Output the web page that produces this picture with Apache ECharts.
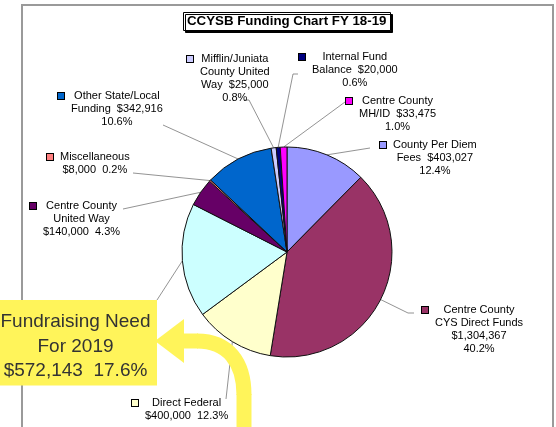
<!DOCTYPE html>
<html><head><meta charset="utf-8">
<script src="https://cdn.jsdelivr.net/npm/echarts@6/dist/echarts.min.js"></script>
<style>html,body{margin:0;padding:0;background:#fff}#c{width:556px;height:427px}</style>
</head><body><div id="c"></div>
<script>
// ---- data ----
const categories = ['County Per Diem Fees', 'Centre County CYS Direct Funds', 'Direct Federal',
  'Fundraising Need For 2019', 'Centre County United Way', 'Miscellaneous',
  'Other State/Local Funding', 'Mifflin/Juniata County United Way', 'Internal Fund Balance', 'Centre County MH/ID'];
const values = [403027, 1304367, 400000, 572143, 140000, 8000, 342916, 25000, 20000, 33475];
const labelTexts = [
  ['County Per Diem', 'Fees  $403,027', '12.4%'],
  ['Centre County', 'CYS Direct Funds', '$1,304,367', '40.2%'],
  ['Direct Federal', '$400,000  12.3%'],
  ['Fundraising Need', 'For 2019', '$572,143  17.6%'],
  ['Centre County', 'United Way', '$140,000  4.3%'],
  ['Miscellaneous', '$8,000  0.2%'],
  ['Other State/Local', 'Funding  $342,916', '10.6%'],
  ['Mifflin/Juniata', 'County United', 'Way  $25,000', '0.8%'],
  ['Internal Fund', 'Balance  $20,000', '0.6%'],
  ['Centre County', 'MH/ID  $33,475', '1.0%']
];
const titleText = 'CCYSB Funding Chart FY 18-19';

// ---- styles / layout ----
const colors = ['#9999FF', '#993366', '#FFFFCC', '#CCFFFF', '#660066', '#FF8080', '#0066CC', '#CCCCFF', '#000080', '#FF00FF'];
const highlightIndex = 3;
const yellow = '#FFF45A';
// label top-left positions and leader-line bend/end points
const layouts = [
  { x: 380, y: 138.5, line: [[370, 148], [370, 148]] },
  { x: 422, y: 303.5, line: [[408, 313], [414, 313]] },
  { x: 132, y: 396.5, line: [[226, 399], [226, 399]] },
  { x: 0, y: 300, line: [[157, 300], [157, 300]] },
  { x: 30, y: 199.5, line: [[123, 209], [123, 209]] },
  { x: 47, y: 150.5, line: [[133, 173], [133, 173]] },
  { x: 58, y: 89.5, line: [[163, 125], [163, 125]] },
  { x: 187, y: 52.5, line: [[249, 100], [244, 100]] },
  { x: 299, y: 50.5, line: [[293, 74], [298, 74]] },
  { x: 346, y: 94.5, line: [[345, 102], [345, 102]] }
];

const rich = {
  sp: { width: 7 },
  bl: { width: 13 },
  t: { align: 'center', fontSize: 11, lineHeight: 13, color: '#000', fontFamily: 'Liberation Sans' },
  fr: { align: 'center', fontSize: 19, lineHeight: 24.5, color: '#333', fontFamily: 'Liberation Sans' }
};
colors.forEach((c, i) => {
  rich['k' + i] = { width: 6, height: 6, backgroundColor: c, borderColor: '#000', borderWidth: 1 };
});

function labelFor(i) {
  const lines = labelTexts[i];
  if (i === highlightIndex) {
    return lines.map(l => '{fr|' + l + '}').join('\n');
  }
  return lines.map((l, j) => j === 0 ? '{k' + i + '| }{sp| }{t|' + l + '}' : '{bl| }{t|' + l + '}').join('\n');
}

const data = categories.map((name, i) => {
  const item = { name: name, value: values[i], itemStyle: { color: colors[i] }, label: { formatter: labelFor(i) } };
  if (i === highlightIndex) {
    item.label.backgroundColor = yellow;
    item.label.padding = [10, 6, 2, 0];
    item.label.width = 151;
  }
  return item;
});

const arrowStyle = { fill: 'none', stroke: yellow, lineWidth: 15 };
const chart = echarts.init(document.getElementById('c'), null, { renderer: 'canvas' });
chart.setOption({
  animation: false,
  backgroundColor: '#fff',
  title: {
    text: titleText, left: 183, top: 12, padding: [2, 4, 2, 4],
    backgroundColor: '#fff', borderColor: '#000', borderWidth: 1,
    shadowColor: '#000', shadowBlur: 0, shadowOffsetX: 2, shadowOffsetY: 2,
    textStyle: { fontSize: 13.3, fontWeight: 'bold', color: '#000', fontFamily: 'Liberation Sans', lineHeight: 15 }
  },
  graphic: [
    { type: 'rect', z: 0, shape: { x: 22, y: 5, width: 531, height: 460 }, style: { fill: 'none', stroke: '#9a9a9a', lineWidth: 2 } },
    { type: 'line', z: 100, shape: { x1: 244, y1: 432, x2: 244, y2: 394 }, style: arrowStyle },
    { type: 'bezierCurve', z: 100, shape: { x1: 244, y1: 395, cpx1: 244, cpy1: 362, cpx2: 228, cpy2: 341, x2: 197, y2: 341 }, style: arrowStyle },
    { type: 'line', z: 100, shape: { x1: 198, y1: 341, x2: 180, y2: 341 }, style: arrowStyle },
    { type: 'polygon', z: 100, shape: { points: [[155, 341], [184, 319], [184, 363]] }, style: { fill: yellow } }
  ],
  series: [{
    type: 'pie',
    center: [287, 252],
    radius: 105,
    startAngle: 90,
    clockwise: true,
    avoidLabelOverlap: false,
    silent: true,
    itemStyle: { borderColor: '#111', borderWidth: 1 },
    label: { show: true, position: 'outside', rich: rich, overflow: 'none', fontFamily: 'Liberation Sans' },
    labelLine: { show: true, length: 5, length2: 5, lineStyle: { color: '#777', width: 0.8 } },
    labelLayout: function (p) {
      const L = layouts[p.dataIndex];
      const pts = p.labelLinePoints;
      const edge = pts ? pts[0] : L.line[0];
      return { x: L.x, y: L.y, align: 'left', verticalAlign: 'top', labelLinePoints: [edge, L.line[0], L.line[1]] };
    },
    data: data
  }]
});
</script>
</body></html>
